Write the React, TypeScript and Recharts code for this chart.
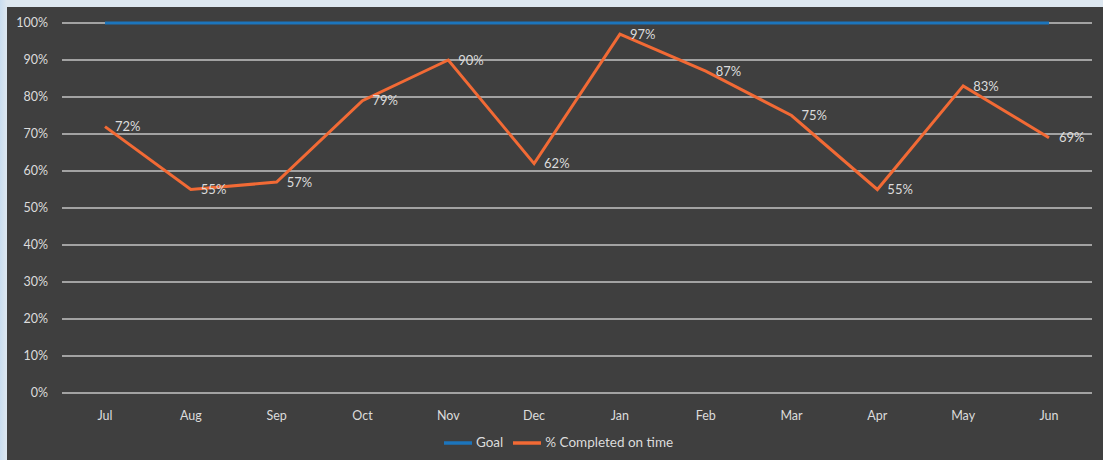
import { LineChart, Line, XAxis, YAxis, CartesianGrid, Legend, LabelList } from "recharts";

const months = ["Jul", "Aug", "Sep", "Oct", "Nov", "Dec", "Jan", "Feb", "Mar", "Apr", "May", "Jun"];
const goal = [100, 100, 100, 100, 100, 100, 100, 100, 100, 100, 100, 100];
const completed = [72, 55, 57, 79, 90, 62, 97, 87, 75, 55, 83, 69];
const yTicks = [0, 10, 20, 30, 40, 50, 60, 70, 80, 90, 100];
const seriesOrder = ["Goal", "% Completed on time"];

const chartData = months.map((m, i) => ({
  month: m,
  goal: goal[i],
  completed: completed[i],
}));

const FONT = "Lato, 'Open Sans', sans-serif";
const TEXT = "#dcdcdc";

export default function App() {
  return (
    <div
      style={{
        position: "absolute",
        top: 0,
        left: 0,
        width: 1103,
        height: 460,
        background: "linear-gradient(90deg, #c9ddf0 0px, #dde7f0 7px)",
        fontFamily: FONT,
      }}
    >
      <div style={{ position: "absolute", top: 7, left: 7, width: 1096, height: 453, background: "#3f3f3f" }}>
        <LineChart width={1096} height={453} data={chartData} margin={{ top: 16, right: 11, bottom: 7, left: 0 }}>
          <CartesianGrid vertical={false} stroke="#c4c4c4" strokeWidth={1.5} />
          <XAxis
            dataKey="month"
            padding={{ left: 43, right: 43 }}
            axisLine={false}
            tickLine={false}
            tickMargin={12}
            height={36}
            tick={{ fontSize: 12.5, fill: TEXT, fontFamily: FONT }}
          />
          <YAxis
            domain={[0, 100]}
            ticks={yTicks}
            width={55}
            axisLine={false}
            tickLine={false}
            tickMargin={8}
            tickFormatter={(v) => `${v}%`}
            tick={{ fontSize: 12.5, fill: TEXT, fontFamily: FONT }}
          />
          <Legend
            verticalAlign="bottom"
            height={24}
            iconSize={28}
            wrapperStyle={{ marginLeft: 14 }}
            itemSorter={(item: any) => seriesOrder.indexOf(item.value)}
            formatter={(value) => (
              <span style={{ color: TEXT, fontSize: 13.5, fontFamily: FONT }}>{value}</span>
            )}
          />
          <Line
            name="Goal"
            dataKey="goal"
            stroke="#1c75bc"
            strokeWidth={3}
            dot={false}
            legendType="plainline"
            isAnimationActive={false}
          />
          <Line
            name="% Completed on time"
            dataKey="completed"
            stroke="#f26a35"
            strokeWidth={3}
            dot={false}
            legendType="plainline"
            isAnimationActive={false}
          >
            <LabelList
              dataKey="completed"
              position="right"
              offset={10}
              formatter={(v) => `${v}%`}
              style={{ fill: TEXT, fontSize: 13, fontFamily: FONT }}
            />
          </Line>
        </LineChart>
      </div>
    </div>
  );
}
